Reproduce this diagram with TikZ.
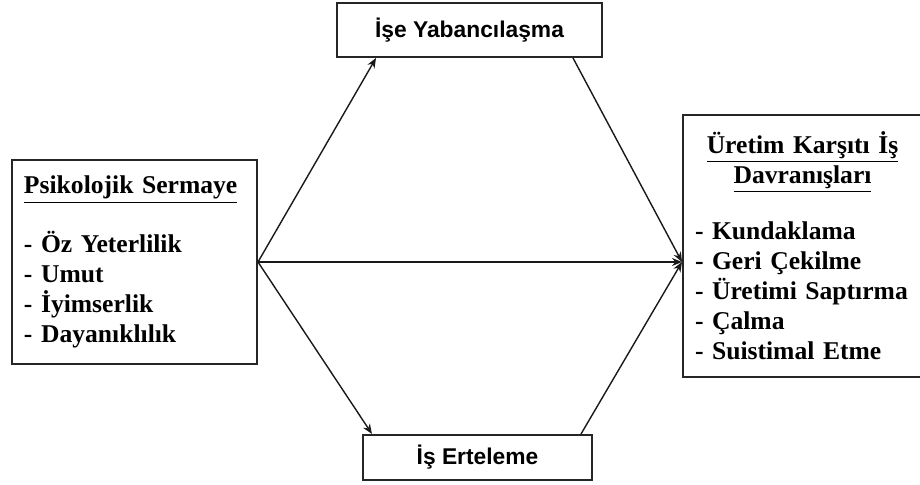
\documentclass[tikz,border=0pt]{standalone}
\usepackage{fontspec}
\setmainfont{Liberation Serif}
\newfontfamily\arialfont{Liberation Sans}
\usepackage{tikz}
\usetikzlibrary{arrows.meta, positioning, calc}
\tikzstyle{listbox} = [rectangle, draw=black!85, line width=1pt, fill=white, inner xsep=6pt,
  inner ysep=5pt, font=\fontsize{12.8}{15}\selectfont\bfseries, align=left]
\tikzstyle{medbox} = [rectangle, draw=black!85, line width=1pt, fill=white,
  font=\arialfont\fontsize{11.4}{13}\selectfont\bfseries, text centered]
\tikzstyle{arrow} = [line width=0.7pt, black!90, -{Stealth[length=5pt, width=4pt]}]

\begin{document}
\begin{tikzpicture}[x=0.5pt, y=-0.5pt]
  \useasboundingbox (0,0) rectangle (920,485);

  % Predictor
  \node (psy) [listbox, text width=110.5pt, minimum height=102pt] at (134.5,262)
    {\raggedright\underline{Psikolojik Sermaye}\\[13pt]
     - Öz Yeterlilik\\
     - Umut\\
     - İyimserlik\\
     - Dayanıklılık\par\vspace{5pt}};

  % Mediators
  \node (alien) [medbox, minimum width=132.5pt, minimum height=27pt] at (469.5,30)
    {İşe Yabancılaşma};
  \node (procr) [medbox, minimum width=114.5pt, minimum height=22.5pt] at (477.5,457.5)
    {İş Erteleme};

  % Outcome
  \node (cwb) [listbox, text width=107.5pt, minimum height=131pt] at (802.5,246)
    {{\centering\underline{Üretim Karşıtı İş}\\\underline{Davranışları}\par}
     \vspace{13pt}
     \raggedright
     - Kundaklama\\
     - Geri Çekilme\\
     - Üretimi Saptırma\\
     - Çalma\\
     - Suistimal Etme};

  \draw[arrow] (psy.east) -- ([xshift=20pt]alien.south west);
  \draw[arrow] (psy.east) -- ([xshift=5pt]procr.north west);
  \draw[arrow] (psy.east) -- (psy.east -| cwb.west);
  \draw[arrow] ([xshift=-15pt]alien.south east) -- (psy.east -| cwb.west);
  \draw[arrow] ([xshift=-6pt]procr.north east) -- (psy.east -| cwb.west);
\end{tikzpicture}
\end{document}
